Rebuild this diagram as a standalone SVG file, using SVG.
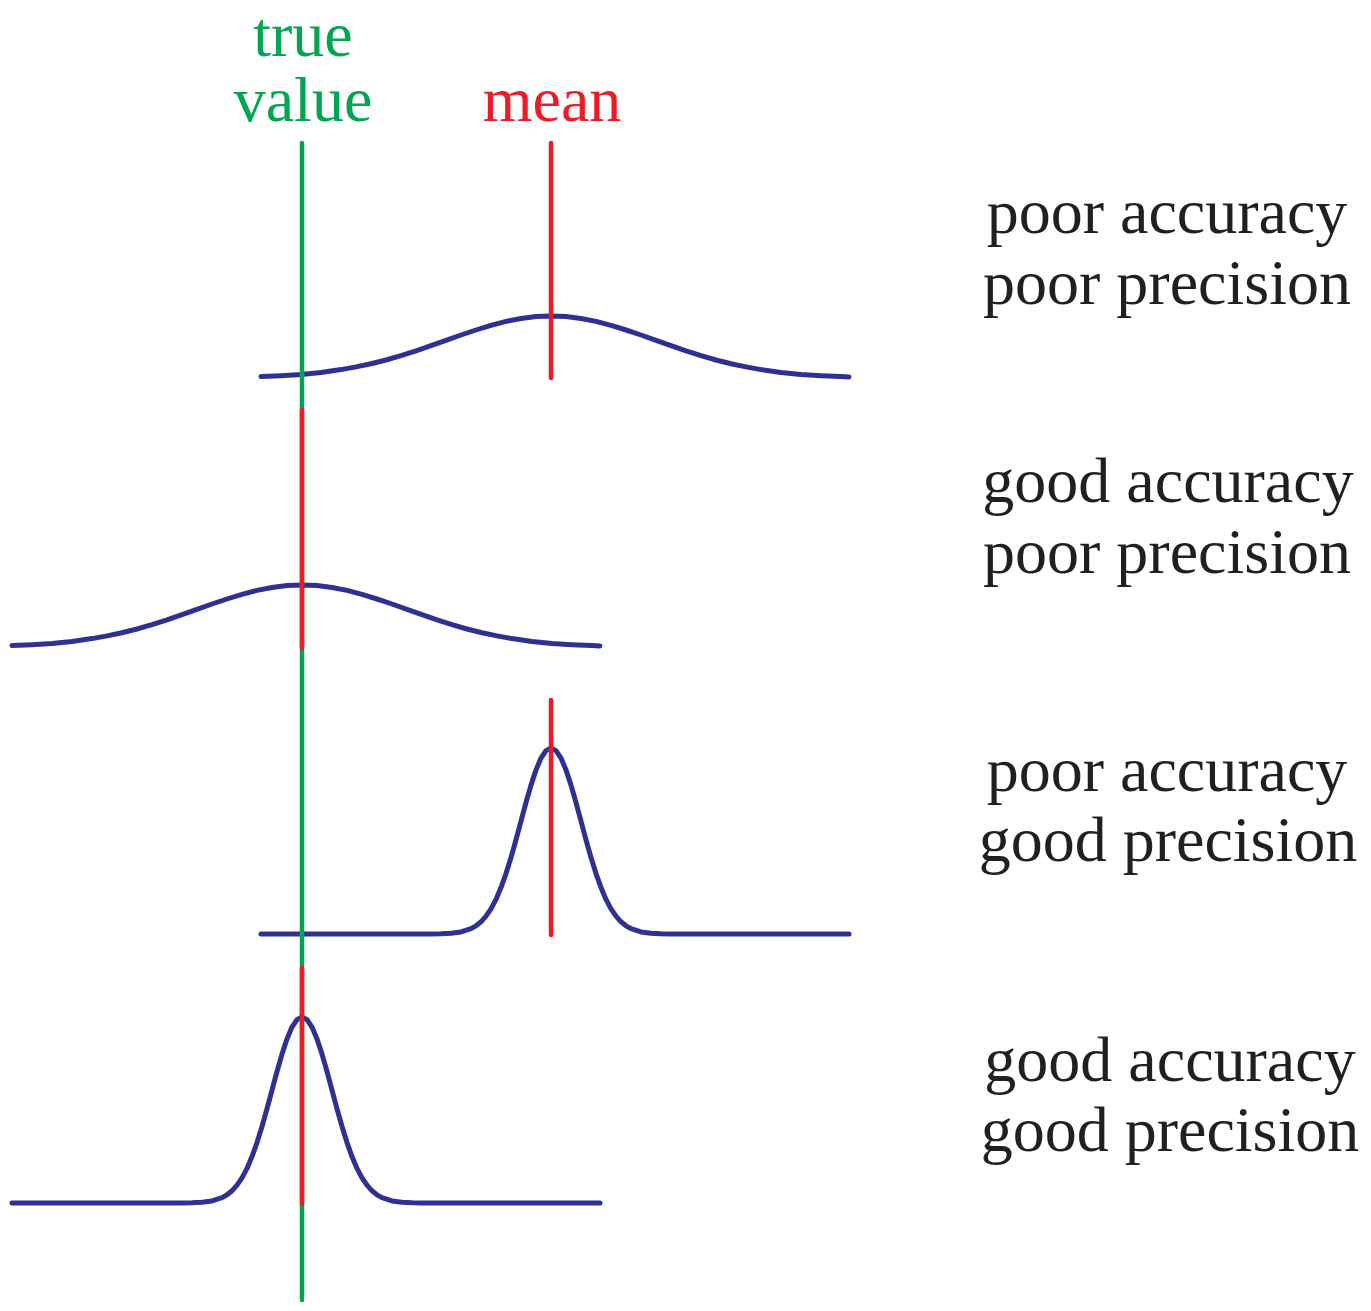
<svg xmlns="http://www.w3.org/2000/svg" width="1371" height="1311" viewBox="0 0 1371 1311">
<style>
.lbl{font-family:"Liberation Serif","Times New Roman",serif;font-size:64px;fill:#231f20;text-anchor:middle}
.top{font-family:"Liberation Serif","Times New Roman",serif;font-size:64px;text-anchor:middle}
.curve{fill:none;stroke:#2e3192;stroke-width:5;stroke-linecap:round;stroke-linejoin:round}
.green{stroke:#00a651;stroke-width:4.5;stroke-linecap:round}
.red{stroke:#ed1c24;stroke-width:4.5;stroke-linecap:round}
</style>
<defs>
<path id="wide" d="M-290,-1.4 L-270,-2.3 L-250,-3.6 L-230,-5.6 L-210,-8.4 L-195,-11.1 L-180,-14.3 L-165,-18 L-150,-22.3 L-135,-27.1 L-120,-32.3 L-105,-37.6 L-90,-43 L-75,-48 L-60,-52.7 L-45,-56.6 L-30,-59.5 L-15,-61.4 L0,-62 L15,-61.4 L30,-59.5 L45,-56.6 L60,-52.7 L75,-48 L90,-43 L105,-37.6 L120,-32.3 L135,-27.1 L150,-22.3 L165,-18 L180,-14.3 L195,-11.1 L210,-8.4 L230,-5.6 L250,-3.6 L270,-2.3 L290,-1.4 L298,-1.1"/>
<path id="narrow" d="M-290,0 L-120,0 L-110,-0.2 L-100,-0.7 L-90,-2.1 L-80,-5.3 L-75,-8.2 L-70,-12.2 L-65,-17.8 L-60,-25.2 L-55,-34.6 L-50,-46.4 L-45,-60.4 L-40,-76.5 L-35,-94.2 L-30,-112.8 L-25,-131.5 L-20,-148.9 L-15,-164.1 L-10,-175.9 L-5,-183.4 L0,-186 L5,-183.4 L10,-175.9 L15,-164.1 L20,-148.9 L25,-131.5 L30,-112.8 L35,-94.2 L40,-76.5 L45,-60.4 L50,-46.4 L55,-34.6 L60,-25.2 L65,-17.8 L70,-12.2 L75,-8.2 L80,-5.3 L90,-2.1 L100,-0.7 L110,-0.2 L120,0 L298,0"/>
</defs>
<rect width="1371" height="1311" fill="#ffffff"/>
<g id="curves">
<use href="#wide" class="curve" transform="translate(551,378)"/>
<use href="#wide" class="curve" transform="translate(302,647)"/>
<use href="#narrow" class="curve" transform="translate(551,934)"/>
<use href="#narrow" class="curve" transform="translate(302,1203)"/>
</g>
<g id="true-value-line">
<line class="green" x1="302" y1="143" x2="302" y2="1300"/>
</g>
<g id="connectors">
<line class="red" x1="551" y1="143" x2="551" y2="378"/>
<line class="red" x1="302" y1="410" x2="302" y2="648"/>
<line class="red" x1="551" y1="700" x2="551" y2="935"/>
<line class="red" x1="302" y1="968" x2="302" y2="1204"/>
</g>
<g id="label-true-value">
<text class="top" fill="#00a651" x="303" y="56" font-size="63">true</text>
<text class="top" fill="#00a651" x="303" y="121">value</text>
</g>
<g id="label-mean">
<text class="top" fill="#ed1c24" x="552" y="121">mean</text>
</g>
<g id="case1">
<text class="lbl" x="1167" y="233">poor accuracy</text>
<text class="lbl" x="1167" y="304">poor precision</text>
</g>
<g id="case2">
<text class="lbl" x="1168" y="502">good accuracy</text>
<text class="lbl" x="1167" y="573">poor precision</text>
</g>
<g id="case3">
<text class="lbl" x="1167" y="791">poor accuracy</text>
<text class="lbl" x="1168" y="861">good precision</text>
</g>
<g id="case4">
<text class="lbl" x="1170" y="1081">good accuracy</text>
<text class="lbl" x="1170" y="1151">good precision</text>
</g>
</svg>
